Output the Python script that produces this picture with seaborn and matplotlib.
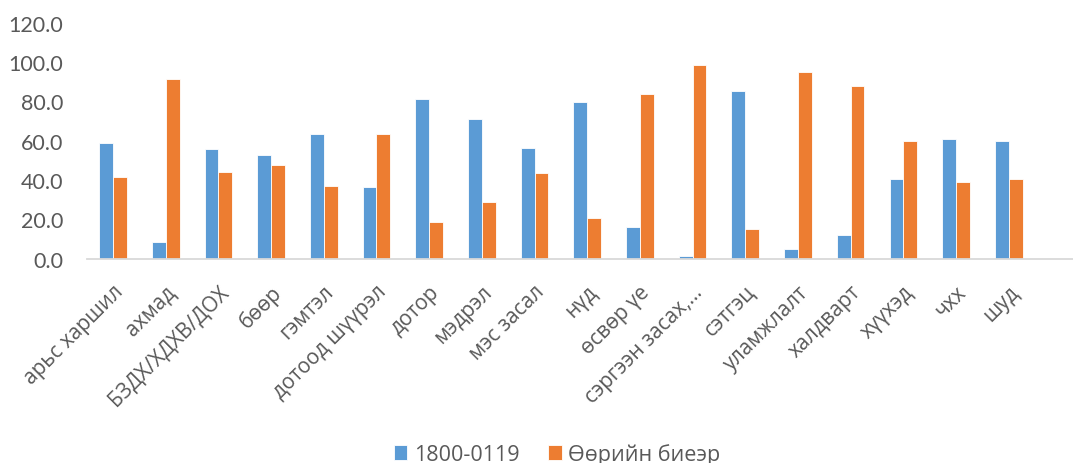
import matplotlib
matplotlib.use("Agg")
import matplotlib.pyplot as plt
import matplotlib.transforms as mtransforms
from matplotlib.ticker import FormatStrFormatter
import seaborn as sns
import pandas as pd

# Departments and the share of patients by referral type (%)
categories = [
    "арьс харшил", "ахмад", "БЗДХ/ХДХВ/ДОХ", "бөөр", "гэмтэл",
    "дотоод шүүрэл", "дотор", "мэдрэл", "мэс засал", "нүд",
    "өсвөр үе", "сэргээн засах,…", "сэтгэц", "уламжлалт", "халдварт",
    "хүүхэд", "чхх", "шуд",
]
series_names = ["1800-0119", "Өөрийн биеэр"]
hotline = [58.6, 8.6, 56.0, 52.6, 63.3, 36.5, 81.5, 71.0, 56.3, 79.6,
           16.2, 1.5, 85.2, 4.9, 11.9, 40.3, 60.8, 59.7]
self_referred = [41.4, 91.4, 44.0, 47.4, 36.7, 63.5, 18.5, 29.0, 43.7, 20.4,
                 83.8, 98.5, 14.8, 95.1, 88.1, 59.7, 39.2, 40.3]
y_ticks = [0, 20, 40, 60, 80, 100, 120]

df = pd.DataFrame({
    "category": categories * 2,
    "series": [series_names[0]] * len(categories) + [series_names[1]] * len(categories),
    "value": hotline + self_referred,
})

sns.set_theme(style="white")
plt.rcParams["font.family"] = ["Open Sans", "DejaVu Sans"]

TEXT = "#595959"
BLUE = "#5B9BD5"
ORANGE = "#ED7D31"

fig = plt.figure(figsize=(10.73, 4.64), dpi=100)
ax = fig.add_axes([0.0808, 0.4407, 0.9192, 0.5076])

sns.barplot(
    data=df, x="category", y="value", hue="series",
    order=categories, hue_order=series_names,
    palette=[BLUE, ORANGE], width=0.524, gap=0,
    edgecolor="white", linewidth=0.6, saturation=1, ax=ax,
)

ax.set_xlim(-0.5, 18.22)
ax.set_ylim(0, 120)
ax.set_yticks(y_ticks)
ax.yaxis.set_major_formatter(FormatStrFormatter("%.1f"))
ax.set_xlabel("")
ax.set_ylabel("")

for side in ["top", "right", "left"]:
    ax.spines[side].set_visible(False)
ax.spines["bottom"].set_color("#D9D9D9")
ax.spines["bottom"].set_linewidth(1.3)

ax.tick_params(axis="y", length=0, pad=17, labelsize=15.5, labelcolor=TEXT)
ax.tick_params(axis="x", length=0, pad=0, labelsize=15, labelcolor=TEXT)
for lab in ax.get_yticklabels():
    lab.set_family(["Lato", "DejaVu Sans"])

# rotated category labels, right end anchored just below each group
offset = mtransforms.ScaledTranslation(5 / 72, -21.5 / 72, fig.dpi_scale_trans)
for lab in ax.get_xticklabels():
    lab.set_rotation(45)
    lab.set_ha("right")
    lab.set_va("center")
    lab.set_rotation_mode("anchor")
    lab.set_transform(lab.get_transform() + offset)

handles, labels = ax.get_legend_handles_labels()
ax.get_legend().remove()
leg = fig.legend(
    handles, labels, loc="center", bbox_to_anchor=(0.519, 1 - 455 / 464),
    ncol=2, frameon=False, fontsize=15.5, handlelength=0.65, handleheight=0.65,
    handletextpad=0.3, columnspacing=1.3, borderaxespad=0, borderpad=0,
)
for t in leg.get_texts():
    t.set_color(TEXT)

fig.savefig("out.png", dpi=100)
